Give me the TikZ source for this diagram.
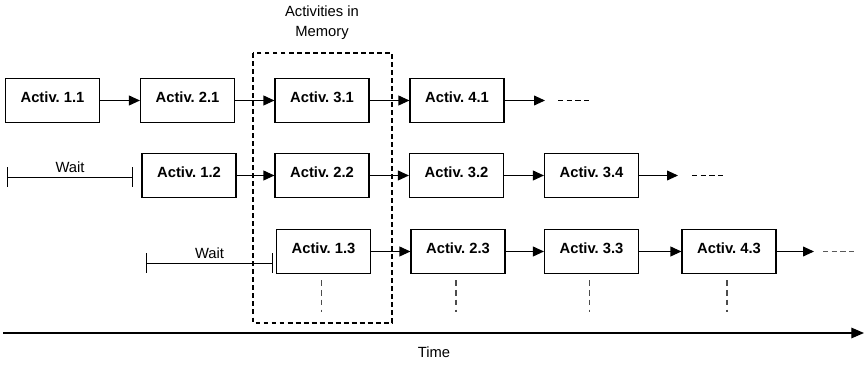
\documentclass[tikz,border=0pt]{standalone}
\usepackage{fontspec}
\setmainfont{Liberation Sans}
\usetikzlibrary{arrows.meta,calc}
\frenchspacing
\begin{document}
\begin{tikzpicture}[x=0.025cm,y=-0.025cm,
  actbox/.style={draw,line width=0.8pt,minimum width=94*0.025cm,minimum height=44*0.025cm,
    inner sep=0pt,font=\fontsize{10.5}{12}\selectfont\bfseries,text height=7.5pt,text depth=4pt},
  flow/.style={line width=0.8pt,-{Triangle[length=7.8pt,width=7pt]}},
  trail/.style={line width=0.8pt,dash pattern=on 3.6pt off 2.6pt},
  waitline/.style={line width=0.7pt,{Bar[width=14pt]}-{Bar[width=14pt]}},
  lbl/.style={font=\fontsize{10.5}{14}\selectfont,inner sep=0pt},
  drop/.style={line width=0.8pt,gray!60!black,dash pattern=on 4pt off 3pt},
  memory/.style={line width=1.1pt,dash pattern=on 3.5pt off 2.2pt}]
\useasboundingbox (0,0) rectangle (864,365);

% memory window
\draw[memory] (253,53) rectangle (392,323);
\node[lbl,align=center] (memlbl) at (322,23) {Activities in\\Memory};

% row 1
\node[actbox] (a11) at (52.5,100.5) {Activ. 1.1};
\node[actbox] (a21) at (187.5,100.5) {Activ. 2.1};
\node[actbox] (a31) at (322,100.5) {Activ. 3.1};
\node[actbox] (a41) at (457,100.5) {Activ. 4.1};
\coordinate (e1) at (545,100.5);
\coordinate (d1a) at (558,100.5);
\coordinate (d1b) at (591,100.5);
\draw[flow] (a11) -- (a21);
\draw[flow] (a21) -- (a31);
\draw[flow] (a31) -- (a41);
\draw[flow] (a41) -- (e1);
\draw[trail] (d1a) -- (d1b);

% row 2
\node[actbox] (a12) at (189,175.5) {Activ. 1.2};
\node[actbox] (a22) at (322,175.5) {Activ. 2.2};
\node[actbox] (a32) at (456.5,175.5) {Activ. 3.2};
\node[actbox] (a34) at (591.5,175.5) {Activ. 3.4};
\coordinate (w2a) at (7,177);
\coordinate (w2b) at (133,177);
\coordinate (e2) at (678,175.5);
\coordinate (d2a) at (692,175.5);
\coordinate (d2b) at (724,175.5);
\draw[waitline] (w2a) -- node[lbl,above=3pt] (wait2) {Wait} (w2b);
\draw[flow] (a12) -- (a22);
\draw[flow] (a22) -- (a32);
\draw[flow] (a32) -- (a34);
\draw[flow] (a34) -- (e2);
\draw[trail] (d2a) -- (d2b);

% row 3
\node[actbox] (a13) at (323.5,251.5) {Activ. 1.3};
\node[actbox] (a23) at (458,251.5) {Activ. 2.3};
\node[actbox] (a33) at (591.5,251.5) {Activ. 3.3};
\node[actbox] (a43) at (729,251.5) {Activ. 4.3};
\coordinate (w3a) at (146,263);
\coordinate (w3b) at (273,263);
\coordinate (e3) at (814,251.5);
\coordinate (d3a) at (823,251.5);
\coordinate (d3b) at (855,251.5);
\draw[waitline] (w3a) -- node[lbl,above=3pt] (wait3) {Wait} (w3b);
\draw[flow] (a13) -- (a23);
\draw[flow] (a23) -- (a33);
\draw[flow] (a33) -- (a43);
\draw[flow] (a43) -- (e3);
\draw[trail,gray!70!black] (d3a) -- (d3b);

% continuation marks below the last row
\foreach \n in {a13,a23,a33,a43}
  \draw[drop] ($(\n.south)+(-2,6)$) -- ($(\n.south)+(-2,38)$);

% time axis
\coordinate (t0) at (3,333);
\coordinate (t1) at (864,333);
\draw[line width=0.9pt,-{Triangle[length=9pt,width=7.5pt]}] (t0) -- (t1);
\node[lbl] (timelbl) at (434,352) {Time};
\end{tikzpicture}
\end{document}
